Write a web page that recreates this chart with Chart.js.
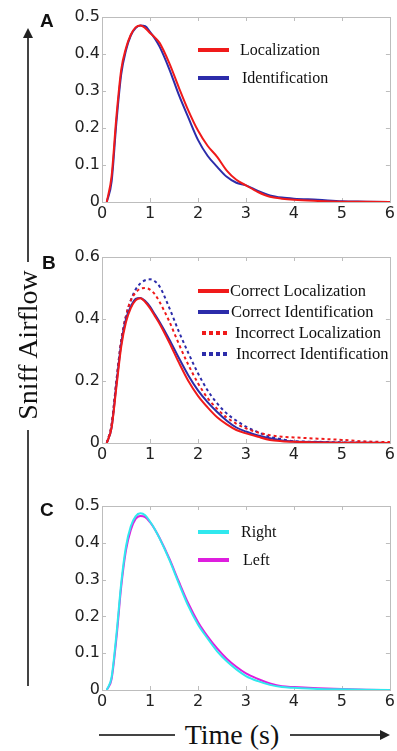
<!DOCTYPE html>
<html>
<head>
<meta charset="utf-8">
<script src="https://cdn.jsdelivr.net/npm/chart.js@4.4.1/dist/chart.umd.min.js"></script>
<style>
  body { margin: 0; background: #fff; }
  #wrap { position: relative; width: 397px; height: 751px; overflow: hidden; }
  .panel { position: absolute; left: 0; }
  .tag { position: absolute; font: bold 19px "Liberation Sans", Arial, sans-serif; line-height: 19px; color: #111; }
  .swatch { position: absolute; height: 4px; }
  .legend-text { position: absolute; white-space: nowrap; font-family: "Liberation Serif", "Times New Roman", serif; line-height: 20px; height: 20px; color: #111; }
  .vline { position: absolute; background: #444; }
  .axis-title { position: absolute; font-family: "Liberation Serif", "Times New Roman", serif; font-size: 28px; color: #111; white-space: nowrap; }
</style>
</head>
<body>
<div id="wrap">
  <canvas id="chartA" class="panel" width="397" height="225" style="top:0px"></canvas>
  <canvas id="chartB" class="panel" width="397" height="225" style="top:240px"></canvas>
  <canvas id="chartC" class="panel" width="397" height="225" style="top:489px"></canvas>

  <div class="tag" style="left:40px;top:11px">A</div>
  <div class="tag" style="left:42px;top:253px">B</div>
  <div class="tag" style="left:40px;top:500px">C</div>

  <!-- vertical arrow with the y title in its gap -->
  <div class="vline" style="left:27px;top:36px;width:1.5px;height:226px"></div>
  <div class="vline" style="left:27px;top:430px;width:1.5px;height:256px"></div>
  <div style="position:absolute;left:23px;top:28px;width:0;height:0;border-left:5px solid transparent;border-right:5px solid transparent;border-bottom:10px solid #222"></div>
  <div class="axis-title" style="left:28px;top:345px;transform:translate(-50%,-50%) rotate(-90deg)">Sniff Airflow</div>

  <!-- horizontal arrow with the x title -->
  <div class="vline" style="left:99px;top:734px;width:76px;height:1.5px"></div>
  <div class="vline" style="left:290px;top:734px;width:92px;height:1.5px"></div>
  <div style="position:absolute;left:380px;top:730px;width:0;height:0;border-top:5px solid transparent;border-bottom:5px solid transparent;border-left:10px solid #222"></div>
  <div class="axis-title" style="left:232px;top:735px;transform:translate(-50%,-50%)">Time (s)</div>
</div>

<script>
// shared time axis (s)
const timeS = [0.1, 0.2, 0.3, 0.4, 0.5, 0.6, 0.7, 0.8, 0.9, 1.0, 1.1, 1.2, 1.4, 1.6, 1.8, 2.0, 2.2, 2.4, 2.6, 2.8, 3.0, 3.25, 3.5, 3.75, 4.0, 4.5, 5.0, 5.5, 6.0];
const xTicks = [0, 1, 2, 3, 4, 5, 6];

// panel A
const yTicksA = [0, 0.1, 0.2, 0.3, 0.4, 0.5];
const labelsA = ["Localization", "Identification"];
const localizationA = [0, 0.07, 0.23, 0.357, 0.416, 0.452, 0.472, 0.477, 0.47, 0.457, 0.445, 0.43, 0.376, 0.31, 0.247, 0.193, 0.152, 0.122, 0.085, 0.06, 0.045, 0.027, 0.014, 0.009, 0.006, 0.003, 0.001, 0.0005, 0];
const identificationA = [0, 0.055, 0.215, 0.345, 0.41, 0.45, 0.47, 0.477, 0.475, 0.46, 0.442, 0.42, 0.36, 0.29, 0.228, 0.168, 0.125, 0.095, 0.068, 0.052, 0.045, 0.03, 0.018, 0.012, 0.009, 0.006, 0.002, 0.001, 0];

// panel B
const yTicksB = [0, 0.2, 0.4, 0.6];
const labelsB = ["Correct Localization", "Correct Identification", "Incorrect Localization", "Incorrect Identification"];
const correctLocB = [0, 0.05, 0.18, 0.31, 0.39, 0.435, 0.46, 0.467, 0.455, 0.435, 0.41, 0.385, 0.325, 0.26, 0.2, 0.152, 0.115, 0.083, 0.06, 0.042, 0.031, 0.02, 0.01, 0.006, 0.004, 0.002, 0.001, 0.0005, 0];
const correctIdB = [0, 0.05, 0.19, 0.32, 0.4, 0.44, 0.465, 0.468, 0.458, 0.44, 0.415, 0.39, 0.335, 0.275, 0.218, 0.17, 0.132, 0.1, 0.072, 0.05, 0.037, 0.024, 0.015, 0.008, 0.005, 0.003, 0.001, 0.0005, 0];
const incorrectLocB = [0, 0.06, 0.2, 0.33, 0.41, 0.46, 0.485, 0.498, 0.5, 0.495, 0.48, 0.455, 0.393, 0.32, 0.252, 0.193, 0.145, 0.11, 0.082, 0.062, 0.047, 0.034, 0.025, 0.02, 0.018, 0.014, 0.01, 0.005, 0.003];
const incorrectIdB = [0, 0.06, 0.2, 0.33, 0.41, 0.46, 0.495, 0.515, 0.525, 0.528, 0.522, 0.505, 0.437, 0.36, 0.29, 0.225, 0.17, 0.128, 0.095, 0.072, 0.053, 0.035, 0.02, 0.012, 0.006, 0.004, 0.002, 0.001, 0];

// panel C
const yTicksC = [0, 0.1, 0.2, 0.3, 0.4, 0.5];
const labelsC = ["Right", "Left"];
const rightC = [0, 0.035, 0.15, 0.29, 0.39, 0.445, 0.472, 0.48, 0.475, 0.458, 0.437, 0.412, 0.355, 0.29, 0.228, 0.178, 0.14, 0.105, 0.078, 0.056, 0.038, 0.024, 0.014, 0.008, 0.006, 0.003, 0.002, 0.001, 0];
const leftC = [0, 0.03, 0.14, 0.28, 0.38, 0.435, 0.465, 0.473, 0.47, 0.456, 0.437, 0.413, 0.358, 0.295, 0.235, 0.185, 0.146, 0.113, 0.085, 0.063, 0.045, 0.03, 0.018, 0.01, 0.008, 0.005, 0.003, 0.001, 0];

const RED = "#f01a1a";
const BLUE = "#2c2caa";
const CYAN = "#30e8ee";
const MAGENTA = "#de1ede";

const toPoints = (ys) => timeS.map((t, i) => ({ x: t, y: ys[i] }));

const line = (label, ys, color, dashed) => ({
    label,
    data: toPoints(ys),
    borderColor: color,
    backgroundColor: color,
    borderWidth: 2,
    borderDash: dashed ? [3, 3] : [],
    pointRadius: 0,
    cubicInterpolationMode: "monotone",
    fill: false
});

// grey box and MATLAB-style inward ticks
const boxTicks = {
    id: "boxTicks",
    beforeDatasetsDraw(chart) {
        const { ctx, chartArea: a, scales: { x, y } } = chart;
        ctx.save();
        ctx.strokeStyle = "#bdbdbd";
        ctx.lineWidth = 1;
        ctx.strokeRect(Math.round(a.left) + 0.5, Math.round(a.top) + 0.5, Math.round(a.right - a.left), Math.round(a.bottom - a.top));
        ctx.beginPath();
        x.ticks.forEach(t => {
            const px = Math.round(x.getPixelForValue(t.value)) + 0.5;
            ctx.moveTo(px, a.bottom); ctx.lineTo(px, a.bottom - 4);
            ctx.moveTo(px, a.top); ctx.lineTo(px, a.top + 4);
        });
        y.ticks.forEach(t => {
            const py = Math.round(y.getPixelForValue(t.value)) + 0.5;
            ctx.moveTo(a.left, py); ctx.lineTo(a.left + 4, py);
            ctx.moveTo(a.right, py); ctx.lineTo(a.right - 4, py);
        });
        ctx.stroke();
        ctx.restore();
    }
};

const tickFont = { family: "'DejaVu Sans', sans-serif", size: 16 };

const makePanel = (id, yMax, yTicks, xAxisH, datasets) => {
    const ctx = document.getElementById(id).getContext("2d");
    return new Chart(ctx, {
        type: "line",
        data: { datasets },
        options: {
            responsive: false,
            animation: false,
            devicePixelRatio: 1,
            layout: { padding: { top: 17, right: 7, left: 0, bottom: 0 } },
            plugins: { legend: { display: false }, tooltip: { enabled: false } },
            scales: {
                x: {
                    type: "linear",
                    min: 0,
                    max: 6,
                    afterBuildTicks: axis => { axis.ticks = xTicks.map(v => ({ value: v })); },
                    afterFit: axis => { axis.height = xAxisH; },
                    grid: { display: false, drawTicks: false },
                    border: { display: false },
                    ticks: { color: "#222", font: tickFont, padding: 2, maxRotation: 0 }
                },
                y: {
                    min: 0,
                    max: yMax,
                    afterBuildTicks: axis => { axis.ticks = yTicks.map(v => ({ value: v })); },
                    afterFit: axis => { axis.width = 102; },
                    grid: { display: false, drawTicks: false },
                    border: { display: false },
                    ticks: { color: "#222", font: tickFont, padding: 2, callback: v => String(v) }
                }
            }
        },
        plugins: [boxTicks]
    });
};

const htmlLegend = (chart, rowY, swatchX, swatchW, textX, fontSize) => {
    const wrap = document.getElementById("wrap");
    chart.data.datasets.forEach((ds, i) => {
        const sw = document.createElement("div");
        sw.className = "swatch";
        sw.style.left = swatchX[i] + "px";
        sw.style.top = (rowY[i] - 2) + "px";
        sw.style.width = swatchW[i] + "px";
        sw.style.background = ds.borderDash.length
            ? `repeating-linear-gradient(90deg, ${ds.borderColor} 0 4px, transparent 4px 7px)`
            : ds.borderColor;
        wrap.appendChild(sw);

        const tx = document.createElement("div");
        tx.className = "legend-text";
        tx.textContent = ds.label;
        tx.style.left = textX[i] + "px";
        tx.style.top = (rowY[i] - 10) + "px";
        tx.style.fontSize = fontSize + "px";
        wrap.appendChild(tx);
    });
};

document.addEventListener("DOMContentLoaded", () => {
    const chartA = makePanel("chartA", 0.5, yTicksA, 23, [
        line(labelsA[0], localizationA, RED, false),
        line(labelsA[1], identificationA, BLUE, false)
    ]);
    const chartB = makePanel("chartB", 0.6, yTicksB, 22, [
        line(labelsB[0], correctLocB, RED, false),
        line(labelsB[1], correctIdB, BLUE, false),
        line(labelsB[2], incorrectLocB, RED, true),
        line(labelsB[3], incorrectIdB, BLUE, true)
    ]);
    const chartC = makePanel("chartC", 0.5, yTicksC, 24, [
        line(labelsC[0], rightC, CYAN, false),
        line(labelsC[1], leftC, MAGENTA, false)
    ]);

    htmlLegend(chartA, [50, 78], [198, 198], [31, 31], [240, 242], 16);
    htmlLegend(chartB, [291, 312, 333, 354], [198, 198, 202, 202], [31, 31, 26, 26], [230, 231, 235, 236], 16.5);
    htmlLegend(chartC, [532, 560], [198, 198], [31, 31], [241, 243], 16);
});
</script>
</body>
</html>
